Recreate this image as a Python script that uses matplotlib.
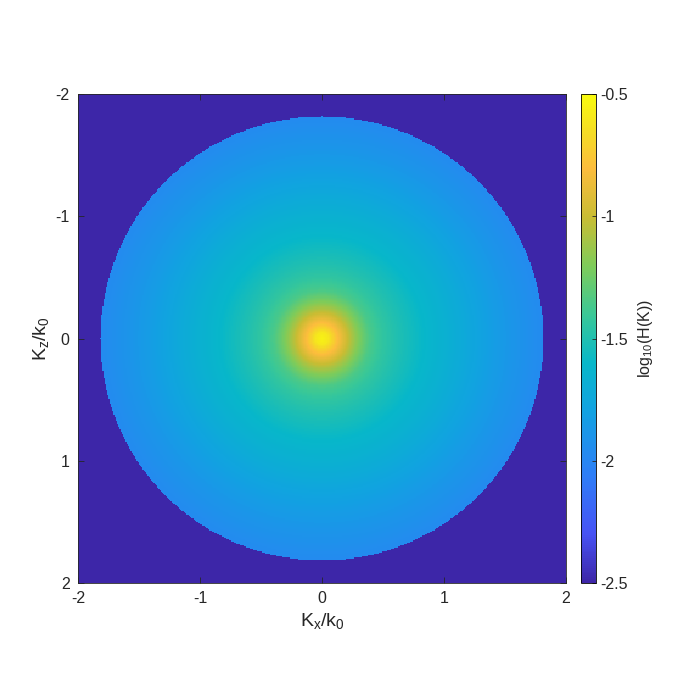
import numpy as np
import matplotlib
matplotlib.use("Agg")
import matplotlib.pyplot as plt
from matplotlib.colors import LinearSegmentedColormap

plt.rcParams['font.family'] = ['Liberation Sans', 'DejaVu Sans']
plt.rcParams['mathtext.fontset'] = 'custom'
plt.rcParams['mathtext.rm'] = 'Liberation Sans'
plt.rcParams['mathtext.it'] = 'Liberation Sans:italic'

# Radial profile of log10(H(K))
radius_k = [0.0, 0.05, 0.08, 0.12, 0.15, 0.23, 0.30, 0.39, 0.50, 0.61, 0.83, 1.10, 1.43, 1.82]
log_h = [-0.55, -0.60, -0.68, -0.78, -0.85, -1.05, -1.20, -1.35, -1.44, -1.50, -1.60, -1.70, -1.84, -1.97]
cutoff_radius = 1.82
background_value = -2.5
clim = (-2.5, -0.5)
ticks_xy = [-2, -1, 0, 1, 2]
cbar_ticks = [-2.5, -2, -1.5, -1, -0.5]

parula_pts = [
    (0.00, (0.2422, 0.1504, 0.6603)),
    (0.10, (0.2788, 0.3230, 0.9580)),
    (0.22, (0.1800, 0.4950, 0.9700)),
    (0.35, (0.0700, 0.6350, 0.8850)),
    (0.45, (0.0300, 0.7200, 0.7900)),
    (0.55, (0.2300, 0.7850, 0.5900)),
    (0.65, (0.5000, 0.8000, 0.3500)),
    (0.75, (0.7900, 0.7400, 0.2000)),
    (0.85, (0.9900, 0.7400, 0.2400)),
    (0.92, (0.9600, 0.8600, 0.1500)),
    (1.00, (0.9763, 0.9831, 0.0538)),
]
parula = LinearSegmentedColormap.from_list('parula', parula_pts, N=256)

n = 401
kx = np.linspace(-2, 2, n)
kz = np.linspace(-2, 2, n)
KX, KZ = np.meshgrid(kx, kz)
R = np.sqrt(KX**2 + KZ**2)
field = np.interp(R, radius_k, log_h)
field[R > cutoff_radius] = background_value

fig = plt.figure(figsize=(6.8, 6.8), dpi=100)
ax = fig.add_axes([0.1147, 0.1426, 0.7176, 0.719])
im = ax.imshow(field, extent=[-2, 2, 2, -2], origin='upper', cmap=parula,
               vmin=clim[0], vmax=clim[1], interpolation='nearest', aspect='auto')
ax.set_xlim(-2, 2)
ax.set_ylim(2, -2)
ax.set_xticks(ticks_xy)
ax.set_yticks(ticks_xy)
ax.set_xticklabels([str(t) for t in ticks_xy])
ax.set_yticklabels([str(t) for t in ticks_xy])
ax.tick_params(direction='in', length=4, width=0.6, labelsize=11.5, colors='#262626',
               top=True, right=True, pad=6)
for s in ax.spines.values():
    s.set_linewidth(0.6)
    s.set_color('#262626')
ax.set_xlabel(r'$\mathrm{K_x/k_0}$', fontsize=14, color='#262626', labelpad=3)
ax.set_ylabel(r'$\mathrm{K_z/k_0}$', fontsize=14, color='#262626', labelpad=3)

cax = fig.add_axes([0.8544, 0.1426, 0.022, 0.719])
cb = fig.colorbar(im, cax=cax, ticks=cbar_ticks)
cb.ax.set_yticklabels(['-2.5', '-2', '-1.5', '-1', '-0.5'])
cb.ax.tick_params(direction='in', length=3, width=0.6, labelsize=11.5, colors='#262626', pad=3)
cb.outline.set_linewidth(0.6)
cb.set_label(r'$\mathrm{log_{10}(H(K))}$', fontsize=11.5, color='#262626', labelpad=6)

fig.savefig('out.png', dpi=100)
